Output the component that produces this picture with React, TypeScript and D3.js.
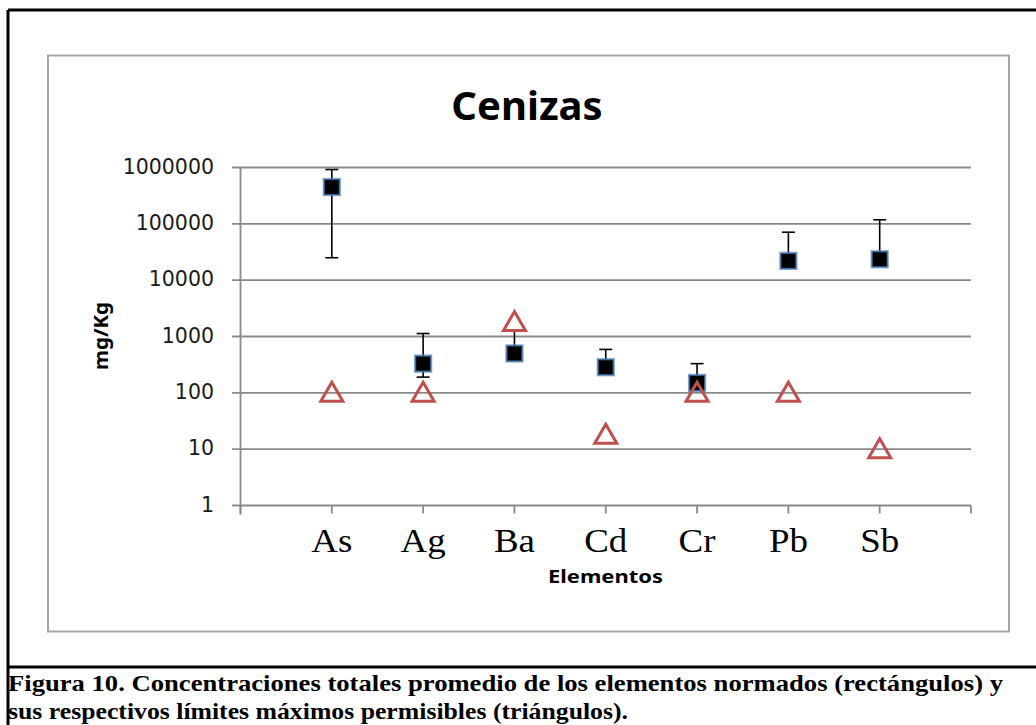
import React from "react";
import * as d3 from "d3";

const categories = ["As", "Ag", "Ba", "Cd", "Cr", "Pb", "Sb"];
const means = [450000, 330, 500, 285, 150, 22000, 23500];
const errHigh = [920000, 1130, 1250, 590, 330, 71000, 118000];
const errLow = [25000, 190, 420, 240, 125, 18500, 20000];
const limits = [100, 100, 1800, 18, 100, 100, 10];
const yTicks = [1, 10, 100, 1000, 10000, 100000, 1000000];
const xTicks = [0, 1, 2, 3, 4, 5, 6, 7, 8];

const W = 1036;
const H = 725;

const App: React.FC = () => {
  const x = d3.scaleLinear().domain([0, 8]).range([240.5, 971]);
  const y = d3.scaleLog().domain([1, 1000000]).range([505.5, 167.5]);

  const tri = "M0,-10.5 L11,8.5 L-11,8.5 Z";
  const sans = "'DejaVu Sans', sans-serif";
  const bold = "'Noto Sans', sans-serif";
  const serif = "'Liberation Serif', 'Times New Roman', serif";

  return (
    <svg
      width={W}
      height={H}
      viewBox={`0 0 ${W} ${H}`}
      style={{ position: "absolute", left: 0, top: 0, background: "#fff" }}
    >
      {/* table cell borders */}
      <line x1={8} x2={W} y1={10} y2={10} stroke="#000" strokeWidth={3} />
      <line x1={8} x2={8} y1={10} y2={H} stroke="#000" strokeWidth={3} />
      <line x1={8} x2={W} y1={667} y2={667} stroke="#000" strokeWidth={3} />

      {/* chart area */}
      <rect x={48} y={55.5} width={961} height={576} fill="#fff" stroke="#a6a6a6" strokeWidth={2} />

      <text x={527} y={120} textAnchor="middle" fontFamily={bold} fontWeight="bold" fontSize={40} fill="#000">
        Cenizas
      </text>

      {/* gridlines + y axis */}
      {yTicks.map((t) => (
        <g key={t}>
          <line x1={232} x2={x(8)} y1={y(t)} y2={y(t)} stroke="#8a8a8a" strokeWidth={1.8} />
          <text
            x={214}
            y={y(t)}
            dominantBaseline="middle"
            textAnchor="end"
            fontFamily={sans}
            fontSize={20.5}
            fill="#1a1a1a"
          >
            {t}
          </text>
        </g>
      ))}
      <line x1={x(0)} x2={x(0)} y1={y(1000000)} y2={y(1) + 9} stroke="#8a8a8a" strokeWidth={1.8} />
      {xTicks.map((t) => (
        <line key={t} x1={x(t)} x2={x(t)} y1={y(1)} y2={y(1) + 8} stroke="#8a8a8a" strokeWidth={1.8} />
      ))}

      {categories.map((c, i) => (
        <text
          key={c}
          transform={`translate(${x(i + 1)},552) scale(1.12,1)`}
          textAnchor="middle"
          fontFamily={serif}
          fontSize={33}
          fill="#000"
        >
          {c}
        </text>
      ))}

      <text
        x={548}
        y={583}
        textLength={115}
        lengthAdjust="spacingAndGlyphs"
        fontFamily={bold}
        fontWeight="bold"
        fontSize={17.5}
        fill="#000"
      >
        Elementos
      </text>
      <text
        transform={`translate(108,370) rotate(-90)`}
        textLength={68}
        lengthAdjust="spacingAndGlyphs"
        fontFamily={bold}
        fontWeight="bold"
        fontSize={19}
        fill="#000"
      >
        mg/Kg
      </text>

      {/* error bars */}
      {categories.map((c, i) => (
        <g key={c} stroke="#000" strokeWidth={1.6}>
          <line x1={x(i + 1)} x2={x(i + 1)} y1={y(errHigh[i])} y2={y(errLow[i])} />
          <line x1={x(i + 1) - 6.5} x2={x(i + 1) + 6.5} y1={y(errHigh[i])} y2={y(errHigh[i])} />
          <line x1={x(i + 1) - 6.5} x2={x(i + 1) + 6.5} y1={y(errLow[i])} y2={y(errLow[i])} />
        </g>
      ))}

      {/* mean squares */}
      {means.map((v, i) => (
        <rect
          key={i}
          x={x(i + 1) - 8}
          y={y(v) - 8}
          width={16}
          height={16}
          fill="#000"
          stroke="#4f81bd"
          strokeOpacity={0.75}
          strokeWidth={2.2}
        />
      ))}

      {/* limit triangles */}
      {limits.map((v, i) => (
        <path
          key={i}
          d={tri}
          transform={`translate(${x(i + 1)},${y(v)})`}
          fill="none"
          stroke="#c0504d"
          strokeWidth={3}
        />
      ))}

      {/* caption */}
      <g fontFamily={serif} fontWeight="bold" fontSize={23} fill="#000">
        <text x={8} y={691} textLength={995} lengthAdjust="spacingAndGlyphs">
          Figura 10. Concentraciones totales promedio de los elementos normados (rectángulos) y
        </text>
        <text x={8} y={719} textLength={620} lengthAdjust="spacingAndGlyphs">
          sus respectivos límites máximos permisibles (triángulos).
        </text>
      </g>
    </svg>
  );
};

export default App;
